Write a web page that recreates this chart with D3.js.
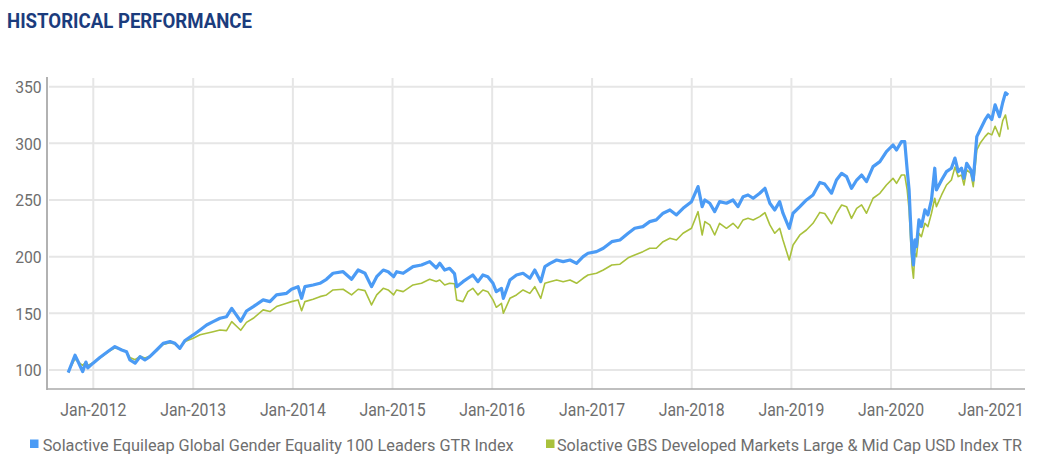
<!DOCTYPE html>
<html>
<head>
<meta charset="utf-8">
<script src="https://cdn.jsdelivr.net/npm/d3@7"></script>
<style>
  body { margin: 0; background: #fff; }
  svg { display: block; font-family: Roboto, sans-serif; }
</style>
</head>
<body>
<svg id="chart" width="1038" height="466"></svg>
<script>
// historical performance, two index series

const seriesNames = [
	"Solactive Equileap Global Gender Equality 100 Leaders GTR Index",
	"Solactive GBS Developed Markets Large & Mid Cap USD Index TR"
];

const dates = [
	"2011-10-01","2011-10-26","2011-11-07","2011-11-23","2011-12-05","2011-12-12","2011-12-31",
	"2012-01-25","2012-03-02","2012-03-20","2012-04-14","2012-05-02","2012-05-14","2012-06-02",
	"2012-06-20","2012-07-08","2012-07-26","2012-08-20","2012-09-13","2012-10-08","2012-10-26",
	"2012-11-13","2012-12-02","2013-01-01","2013-01-26","2013-02-19","2013-03-15","2013-04-09",
	"2013-05-03","2013-05-22","2013-06-24","2013-07-15","2013-08-09","2013-09-14","2013-10-09",
	"2013-11-02","2013-12-09","2013-12-27","2014-01-20","2014-02-02","2014-02-14","2014-03-16",
	"2014-04-10","2014-05-04","2014-05-28","2014-07-04","2014-08-04","2014-08-28","2014-09-22",
	"2014-10-16","2014-11-04","2014-11-28","2014-12-16","2015-01-05","2015-01-16","2015-02-09",
	"2015-03-17","2015-04-17","2015-05-17","2015-06-10","2015-06-23","2015-07-11","2015-07-29",
	"2015-08-16","2015-08-24","2015-09-16","2015-10-04","2015-10-22","2015-11-10","2015-11-28",
	"2015-12-16","2016-01-04","2016-01-16","2016-02-04","2016-02-11","2016-03-06","2016-03-30",
	"2016-04-23","2016-05-18","2016-06-05","2016-06-27","2016-07-12","2016-07-31","2016-08-24",
	"2016-09-17","2016-10-12","2016-11-05","2016-11-29","2016-12-17","2017-01-17","2017-02-11",
	"2017-03-14","2017-04-13","2017-05-13","2017-06-06","2017-07-06","2017-07-31","2017-08-24",
	"2017-09-18","2017-10-13","2017-11-06","2017-11-30","2017-12-31","2018-01-24","2018-02-08",
	"2018-02-18","2018-03-08","2018-03-26","2018-04-13","2018-05-08","2018-06-01","2018-06-19",
	"2018-07-08","2018-07-26","2018-08-14","2018-09-07","2018-09-26","2018-10-14","2018-11-01",
	"2018-11-19","2018-12-01","2018-12-24","2019-01-07","2019-02-01","2019-02-25","2019-03-21",
	"2019-04-15","2019-05-03","2019-05-28","2019-06-15","2019-07-04","2019-07-22","2019-08-09",
	"2019-08-28","2019-09-15","2019-10-03","2019-10-27","2019-11-21","2019-12-15","2020-01-08",
	"2020-01-21","2020-02-08","2020-02-20","2020-02-29","2020-03-07","2020-03-12","2020-03-18",
	"2020-03-23","2020-03-28","2020-04-03","2020-04-12","2020-04-21","2020-05-04","2020-05-15",
	"2020-05-28","2020-06-09","2020-06-15","2020-07-04","2020-07-22","2020-08-09","2020-08-22",
	"2020-09-03","2020-09-15","2020-09-24","2020-10-04","2020-10-19","2020-10-28","2020-11-10",
	"2020-11-22","2020-12-10","2020-12-22","2021-01-04","2021-01-16","2021-02-01","2021-02-13",
	"2021-02-23","2021-03-05"
];

const equileapValues = [
	97.6,113,107,98.5,107,101.8,106,
	111,117.6,120.6,117.6,116,108.8,106,
	111.7,108.8,111.7,117.6,123.5,125,123.5,
	119,126,130.9,135.3,139.7,142.6,145.6,
	147,154.4,143,152,155.9,161.8,160.3,
	166.2,167.6,171.2,173.5,163.2,173.5,175,
	176.5,180,185.3,186.7,180,188.2,185.3,
	173.5,182.3,188.2,186.7,182.3,186.7,185.3,
	191.2,192.6,195.6,190,194.1,188.2,189.7,
	185,173.5,177.9,180.9,183.8,177.9,183.8,
	182.3,176.5,169.1,172,163.2,179.4,183.8,
	185.3,180.9,188.2,177.9,191.2,194.1,197,
	195.6,197,194.1,200,203,204.4,207.4,
	213.2,214.7,220.6,225,226.5,230.9,232.4,
	238.3,241.2,236.8,242.6,248.5,261.8,244.1,
	250,247.1,239.7,248.5,247.1,250,244.1,
	252.9,254.4,251.5,255.9,260.3,247.1,241.2,
	248.5,238.3,225,238.3,244.1,250,254.4,
	265.5,264,256,267.6,273.5,270.6,260.3,
	267.6,272,266.2,279.4,283.8,292.6,298.5,
	294.1,301.5,301.5,276.5,258.8,232.4,203,
	192.6,214.7,208.8,232.4,226.5,241.2,236.8,
	250,278,258.8,267.6,275,278,287,
	275,278,269.1,282.4,276.5,267.6,305.9,
	311.8,320.6,325,321,334,323.5,336,
	344.5,342.6
];

const gbsValues = [
	98,110,107,104,107,104,106.5,
	110.5,117,119.5,118,116,111,109,
	112,110.5,112,117,122.5,124,123,
	120,125,128,131,132.4,133.8,135.3,
	134.7,142.6,135,142,145.6,153,151.5,
	155.9,158.8,160.3,161.8,152.3,160.3,162.4,
	164.7,166.2,170.6,171.2,166.2,171.2,170,
	157.4,166.2,172,170.6,166.2,170.6,169.1,
	175,176.5,180,178,179.4,175,176.5,
	176,161.8,160.3,169.1,172,166.2,170.6,
	169.1,161.8,155.3,158.8,150,163.2,166.2,
	170.6,167.6,173.5,163.2,176.5,177.9,179.4,
	177.9,179.4,176.5,180.9,183.8,185.3,188.2,
	192.6,193.3,199,201.5,204.4,207.4,207.4,
	213.2,216.2,214.7,220.6,225,239.7,219.1,
	230.9,228,219.1,229.4,225,229.4,225,
	232.4,233.8,232.4,235.3,238.8,228,220.6,
	225,214.7,197,210.3,219.1,223.5,229.4,
	239,238,229,238.3,245.6,244.1,233.8,
	242.6,245.6,238.3,251.5,255.9,263.2,269.1,
	264.7,272,272,258.8,241.2,217.6,191.2,
	180.9,203,200,220.6,217.6,229.4,226.5,
	238.3,251.5,244.1,254.4,263.2,267.6,279,
	270.6,272,263.2,276.5,273.5,261.8,294.1,
	300,305.9,309,307.4,315,306,320,
	325,312
];

const yTicks = [100, 150, 200, 250, 300, 350];
const tickYears = [2012, 2013, 2014, 2015, 2016, 2017, 2018, 2019, 2020, 2021];

const colors = ["#4b9bf5", "#a9c13c"];

const svg = d3.select("#chart");
const parse = d3.timeParse("%Y-%m-%d");
const fmt = d3.timeFormat("%b-%Y");

const plotLeft = 47, plotRight = 1025, plotTop = 77, plotBottom = 389;

const x = d3.scaleTime()
	.domain([new Date(2012, 0, 1), new Date(2021, 0, 1)])
	.range([93.3, 991]);

const y = d3.scaleLinear()
	.domain([83.2, 358.5])
	.range([plotBottom, plotTop]);

const tickDates = tickYears.map(yr => new Date(yr, 0, 1));

// grid
const grid = svg.append("g").attr("stroke", "#e6e6e6").attr("stroke-width", 2);
grid.selectAll("line.h")
	.data(yTicks)
	.join("line")
		.attr("class", "h")
		.attr("x1", plotLeft + 2).attr("x2", plotRight)
		.attr("y1", d => y(d)).attr("y2", d => y(d));
grid.selectAll("line.v")
	.data(tickDates)
	.join("line")
		.attr("class", "v")
		.attr("x1", d => x(d)).attr("x2", d => x(d))
		.attr("y1", plotTop + 1).attr("y2", plotBottom);

// axes lines
svg.append("line")
	.attr("x1", plotLeft).attr("x2", plotLeft)
	.attr("y1", plotTop).attr("y2", plotBottom + 1)
	.attr("stroke", "#999").attr("stroke-width", 1.5);
svg.append("line")
	.attr("x1", plotLeft).attr("x2", plotRight)
	.attr("y1", plotBottom).attr("y2", plotBottom)
	.attr("stroke", "#aaa").attr("stroke-width", 1.5);

// y labels
svg.append("g")
	.selectAll("text")
	.data(yTicks)
	.join("text")
		.attr("x", 41.7)
		.attr("y", d => y(d) + 6.3)
		.attr("text-anchor", "end")
		.attr("fill", "#6e6e6e")
		.style("font-size", "17px")
		.attr("textLength", 26.5)
		.attr("lengthAdjust", "spacingAndGlyphs")
		.text(d => d);

// x labels
svg.append("g")
	.selectAll("text")
	.data(tickDates)
	.join("text")
		.attr("x", d => x(d))
		.attr("y", 416)
		.attr("text-anchor", "middle")
		.attr("fill", "#6e6e6e")
		.style("font-size", "18px")
		.attr("textLength", 66)
		.attr("lengthAdjust", "spacingAndGlyphs")
		.text(d => fmt(d));

// lines
const rows = dates.map((d, i) => ({ date: parse(d), a: equileapValues[i], b: gbsValues[i] }));

const line = key => d3.line()
	.x(d => x(d.date))
	.y(d => y(d[key]));

svg.append("path")
	.datum(rows)
	.attr("fill", "none")
	.attr("stroke", colors[1])
	.attr("stroke-width", 1.6)
	.attr("stroke-linejoin", "round")
	.attr("d", line("b"));

svg.append("path")
	.datum(rows)
	.attr("fill", "none")
	.attr("stroke", colors[0])
	.attr("stroke-width", 3.2)
	.attr("stroke-linejoin", "round")
	.attr("d", line("a"));

// title
svg.append("text")
	.attr("x", 7).attr("y", 28)
	.attr("fill", "#1b3c7d")
	.style("font-size", "20px")
	.style("font-weight", "bold")
	.attr("textLength", 245)
	.attr("lengthAdjust", "spacingAndGlyphs")
	.text("HISTORICAL PERFORMANCE");

// legend
const legend = [
	{ name: seriesNames[0], color: colors[0], sx: 30, tx: 42.7, w: 471 },
	{ name: seriesNames[1], color: colors[1], sx: 546, tx: 557, w: 465 }
];
const lg = svg.append("g").selectAll("g").data(legend).join("g");
lg.append("rect")
	.attr("x", d => d.sx).attr("y", 439.5)
	.attr("width", 8.5).attr("height", 8.5)
	.attr("fill", d => d.color);
lg.append("text")
	.attr("x", d => d.tx).attr("y", 451)
	.attr("fill", "#6e6e6e")
	.style("font-size", "16.5px")
	.attr("textLength", d => d.w)
	.attr("lengthAdjust", "spacingAndGlyphs")
	.text(d => d.name);
</script>
</body>
</html>
